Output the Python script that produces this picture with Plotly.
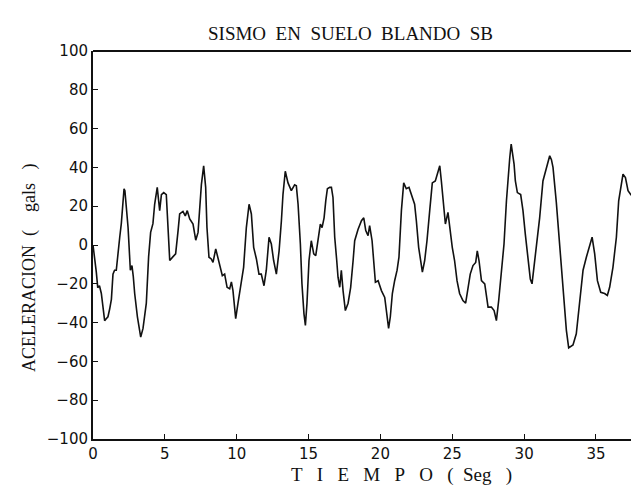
import plotly.graph_objects as go

# Time (s) and acceleration (gals)
tiempo = [0.0, 0.1, 0.23, 0.33, 0.45, 0.58, 0.7, 0.81, 0.92, 1.04, 1.16, 1.28, 1.39, 1.5, 1.62,
          1.74, 1.86, 1.97, 2.09, 2.16, 2.22, 2.32, 2.44, 2.6, 2.71, 2.8, 2.9, 3.09, 3.32, 3.48,
          3.71, 3.87, 4.01, 4.17, 4.29, 4.47, 4.55, 4.64, 4.76, 4.92, 5.1, 5.22, 5.34, 5.57, 5.75,
          5.92, 6.03, 6.26, 6.42, 6.56, 6.73, 6.96, 7.15, 7.31, 7.42, 7.54, 7.7, 7.84, 7.93, 8.07,
          8.23, 8.35, 8.54, 8.7, 8.82, 9.0, 9.16, 9.33, 9.51, 9.63, 9.74, 9.93, 10.09, 10.32, 10.48,
          10.67, 10.86, 11.02, 11.18, 11.37, 11.55, 11.71, 11.9, 12.06, 12.25, 12.41, 12.57, 12.76, 12.95,
          13.11, 13.22, 13.38, 13.57, 13.8, 14.03, 14.15, 14.27, 14.43, 14.54, 14.68, 14.78, 14.89, 15.03,
          15.19, 15.36, 15.5, 15.66, 15.82, 15.94, 16.08, 16.2, 16.31, 16.47, 16.59, 16.7, 16.82, 16.96,
          17.05, 17.17, 17.28, 17.4, 17.56, 17.75, 17.93, 18.1, 18.21, 18.44, 18.68, 18.84, 18.98, 19.14,
          19.25, 19.42, 19.56, 19.65, 19.84, 20.07, 20.3, 20.49, 20.57, 20.69, 20.83, 20.99, 21.16, 21.29,
          21.46, 21.62, 21.8, 21.99, 22.15, 22.38, 22.5, 22.66, 22.8, 22.92, 23.08, 23.24, 23.43, 23.61,
          23.82, 23.96, 24.13, 24.24, 24.4, 24.52, 24.7, 24.87, 25.0, 25.16, 25.33, 25.51, 25.74, 25.93,
          26.09, 26.25, 26.44, 26.63, 26.74, 26.86, 27.03, 27.26, 27.49, 27.72, 27.91, 28.07, 28.23, 28.42,
          28.6, 28.77, 28.88, 29.0, 29.1, 29.2, 29.3, 29.39, 29.53, 29.76, 29.92, 30.08, 30.27, 30.43,
          30.55, 30.69, 30.85, 31.08, 31.31, 31.55, 31.66, 31.78, 31.9, 32.01, 32.24, 32.48, 32.71, 32.94,
          33.1, 33.4, 33.63, 33.87, 34.1, 34.33, 34.56, 34.73, 34.91, 35.1, 35.33, 35.6, 35.79, 35.95,
          36.18, 36.42, 36.58, 36.77, 36.88, 37.05, 37.23, 37.42, 37.58, 37.74, 37.88, 38.04, 38.2, 38.39,
          38.5]

aceleracion = [0, -5, -14, -22, -21, -25, -33, -39, -38, -37, -33, -28, -15, -13, -13,
               -3, 4, 11, 21, 29, 28, 21, 9, -13, -10.6, -16, -25, -37, -47.5, -43,
               -30, -6, 6.5, 11, 21, 29.7, 25, 17.7, 26, 27, 26, 9, -8, -6, -4.6,
               7.4, 16, 17.3, 15, 17.7, 13.4, 10.8, 2.5, 6.5, 17.7, 31, 40.8, 29.7, 9, -6.3,
               -7.2, -9, -2, -7.2, -11.5, -15.8, -15, -21.8, -22.6, -19, -23.5, -38, -30, -20, -11.5,
               9, 21, 16, -1.2, -7.2, -15, -15, -21, -13, 4, 0.5, -8, -15, -3,
               12.5, 26, 38, 32, 28, 31, 30.5, 21, 0.5, -20, -35.5, -41.5, -30, -8,
               2.2, -4.6, -5.5, 2.2, 10.8, 9, 14, 23, 29, 29.7, 29.7, 24.5, 4, -8,
               -16.6, -21.8, -13, -23.5, -33.8, -30, -21.8, -8, 2.2, 8, 12.5, 14, 7.4, 4.8,
               10, 2.2, -11.5, -19.2, -18.4, -23.5, -27, -37.2, -43, -37, -25, -18.4, -13, -6.3,
               17.7, 32, 29, 29.7, 26, 21, 12.5, -1.2, -8, -14, -8, 2.2, 17.7, 32,
               33, 36.5, 40.8, 33, 19.4, 10.8, 16.8, 5.7, -1.2, -8, -18.4, -25, -28.6, -30,
               -23.5, -15, -10.6, -9, -3, -8, -18.4, -20, -32, -32, -33.8, -39, -28.6, -15,
               0.5, 22.8, 36.5, 45, 52, 47, 41.7, 33, 27, 26, 17.7, 5.7, -8, -17.5,
               -20, -11.5, 0.5, 14, 33, 40, 43.4, 46, 44, 40, 22, -2, -25, -44,
               -53, -51.5, -45.8, -28.6, -13, -6.3, 0.5, 4, -4.6, -18.4, -24.4, -25, -26, -21.8,
               -11.5, 4, 22.8, 33, 36.5, 34.8, 28, 26, 27, 28, 22.8, 19.4, 16, 14,
               8.2]

x_ticks = [0, 5, 10, 15, 20, 25, 30, 35]
y_ticks = [-100, -80, -60, -40, -20, 0, 20, 40, 60, 80, 100]

NB = "\u00a0"
titulo = (NB * 2).join(["SISMO", "EN", "SUELO", "BLANDO", "SB"])
titulo_x = (NB * 3).join(["T", "I", "E", "M", "P", "O"]) + NB * 3 + "(" + NB * 2 + "Seg" + NB * 3 + ")"
titulo_y = "ACELERACION" + NB * 2 + "(" + NB * 4 + "gals" + NB * 3 + ")"

fig = go.Figure()
fig.add_trace(go.Scatter(x=tiempo, y=aceleracion, mode="lines",
                         line=dict(color="#111111", width=1.6), showlegend=False))

tick_font = dict(family="DejaVu Sans, Liberation Sans, sans-serif", size=15, color="#111111")
fig.update_xaxes(range=[0, 38.55], tickvals=x_ticks, ticks="inside", ticklen=5,
                 tickcolor="#111111", showline=True, linecolor="#111111", linewidth=2,
                 mirror=False, showgrid=False, zeroline=False, tickfont=tick_font)
fig.update_yaxes(range=[-100, 100], tickvals=y_ticks, ticks="inside", ticklen=5,
                 tickcolor="#111111", showline=True, linecolor="#111111", linewidth=2,
                 showgrid=False, zeroline=False, tickfont=tick_font,
                 tickformat="d")

serif = "Liberation Serif, Times New Roman, serif"
fig.update_layout(
    width=639, height=485,
    margin=dict(l=85, r=0, t=43, b=54),
    paper_bgcolor="white", plot_bgcolor="white",
    shapes=[dict(type="line", xref="paper", yref="paper", x0=0, x1=1, y0=1, y1=1,
                 line=dict(color="#111111", width=2))],
    annotations=[
        dict(text=titulo, xref="paper", yref="paper", x=(342 - 85) / 554, y=1,
             yshift=18, showarrow=False, xanchor="center", yanchor="middle",
             font=dict(family=serif, size=19, color="#111111")),
        dict(text=titulo_x, xref="paper", yref="paper", x=(393 - 85) / 554, y=0,
             yshift=-36, showarrow=False, xanchor="center", yanchor="middle",
             font=dict(family=serif, size=19, color="#111111")),
        dict(text=titulo_y, xref="paper", yref="paper", x=0, xshift=-64,
             y=(431 - 260) / 388, showarrow=False, textangle=-90,
             xanchor="center", yanchor="middle",
             font=dict(family=serif, size=18, color="#111111")),
    ],
)

fig.write_html("out.html")
